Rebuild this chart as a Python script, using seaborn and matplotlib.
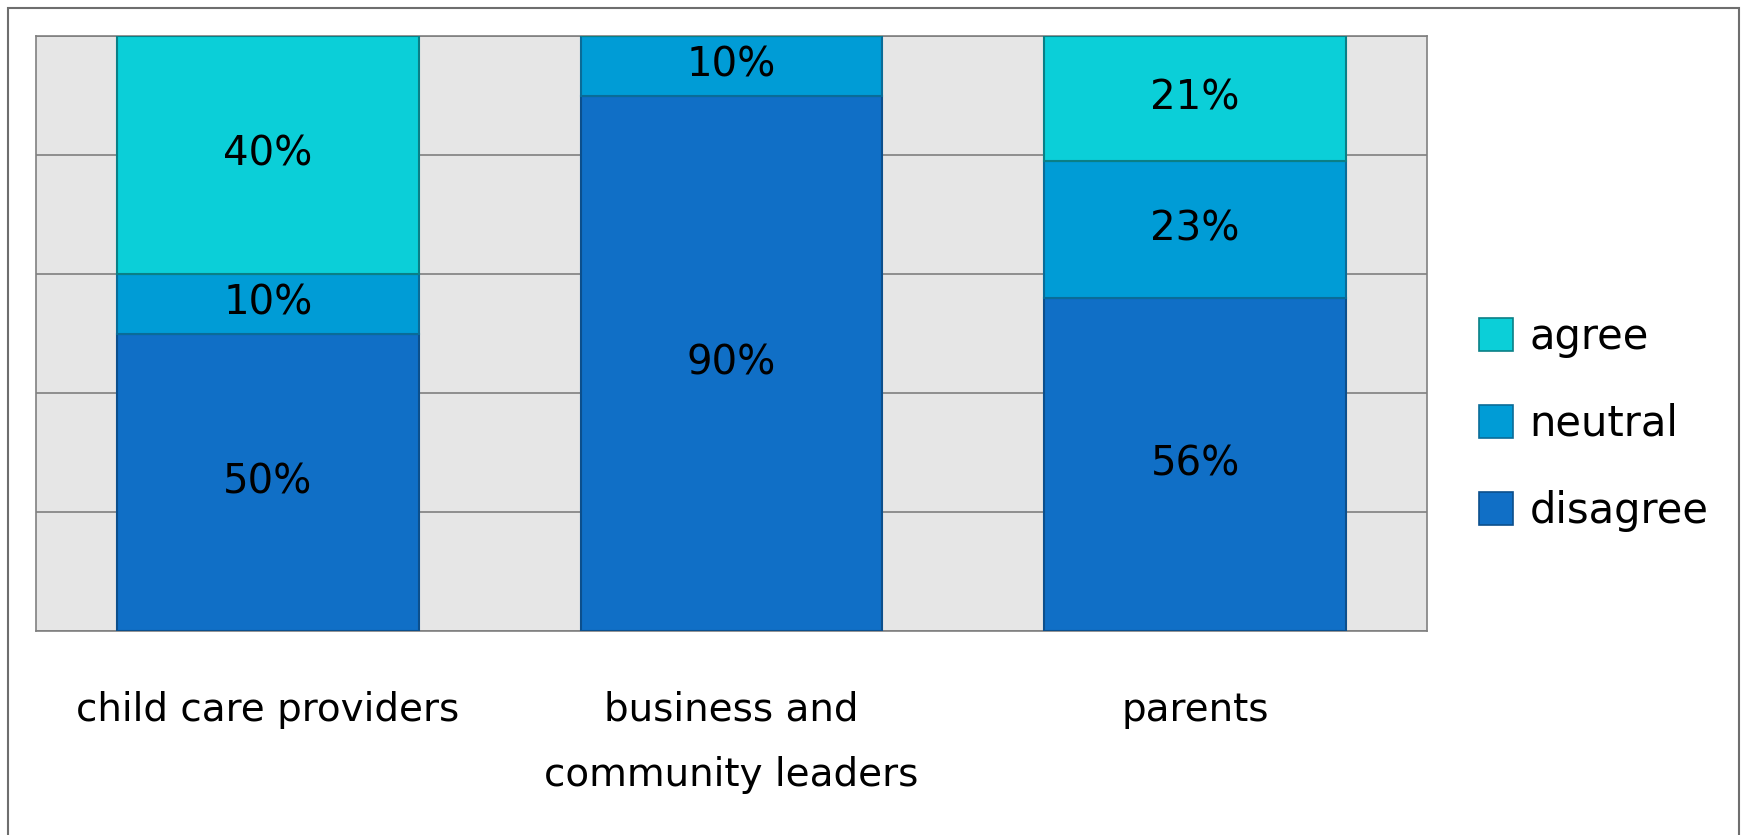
import pandas as pd
import seaborn as sns
import matplotlib.pyplot as plt
from matplotlib.patches import Patch, Rectangle

# values (percent)
groups = ["child care providers", "business and\ncommunity leaders", "parents"]
disagree = [50, 90, 56]
neutral = [10, 10, 23]
agree = [40, 0, 21]

colors = {"agree": "#0BCFD8", "neutral": "#009CD6", "disagree": "#106FC6"}
edges = {"agree": "#0A7F86", "neutral": "#0A6C98", "disagree": "#0C4F8C"}

df = pd.DataFrame({"group": groups, "disagree": disagree,
                   "neutral": neutral, "agree": agree})

sns.set_style("white")
plt.rcParams["font.family"] = ["DejaVu Sans"]
plt.rcParams["text.color"] = "black"
plt.rcParams["xtick.color"] = "black"

fig = plt.figure(figsize=(17.47, 8.35), dpi=100)
ax = fig.add_axes([36 / 1747, 1 - 631 / 835, 1391 / 1747, 595 / 835])
ax.set_facecolor("#E6E6E6")

bottom = [0, 0, 0]
for series in ["disagree", "neutral", "agree"]:
    vals = df[series].tolist()
    sns.barplot(x="group", y=series, data=df, bottom=bottom, width=0.65,
                color=colors[series], edgecolor=edges[series], linewidth=1.5,
                saturation=1, ax=ax, zorder=3)
    for i, v in enumerate(vals):
        if v > 0:
            ax.text(i, bottom[i] + v / 2, f"{v}%", ha="center", va="center",
                    fontsize=29, color="black", zorder=4)
    bottom = [b + v for b, v in zip(bottom, vals)]

ax.set_xlim(-0.5, 2.5)
ax.set_ylim(0, 100)
ax.set_yticks([0, 20, 40, 60, 80, 100])
ax.set_yticklabels([])
ax.grid(axis="y", color="#7F7F7F", linewidth=1.2, zorder=0)
ax.set_axisbelow(True)
ax.set_xlabel("")
ax.set_ylabel("")
ax.tick_params(axis="both", length=0)
ax.tick_params(axis="x", pad=43, labelsize=28, labelcolor="black")
for lab in ax.get_xticklabels():
    lab.set_linespacing(1.9)
for s in ax.spines.values():
    s.set_color("#808080")
    s.set_linewidth(1.2)

handles = [Patch(facecolor=colors[k], edgecolor=edges[k], linewidth=1.2, label=k)
           for k in ["agree", "neutral", "disagree"]]
fig.legend(handles=handles, loc="center left", bbox_to_anchor=(1441 / 1747, 1 - 424 / 835),
           frameon=False, fontsize=30, handlelength=0.82, handleheight=0.82,
           handletextpad=0.4, labelspacing=1.08)

# outer frame
fig.patches.append(Rectangle((8 / 1747, -0.01), 1 - 16 / 1747, 1 - 8 / 835 + 0.01,
                             transform=fig.transFigure, fill=False,
                             edgecolor="#6E6E6E", linewidth=1.5))

fig.savefig("out.png", dpi=100)
